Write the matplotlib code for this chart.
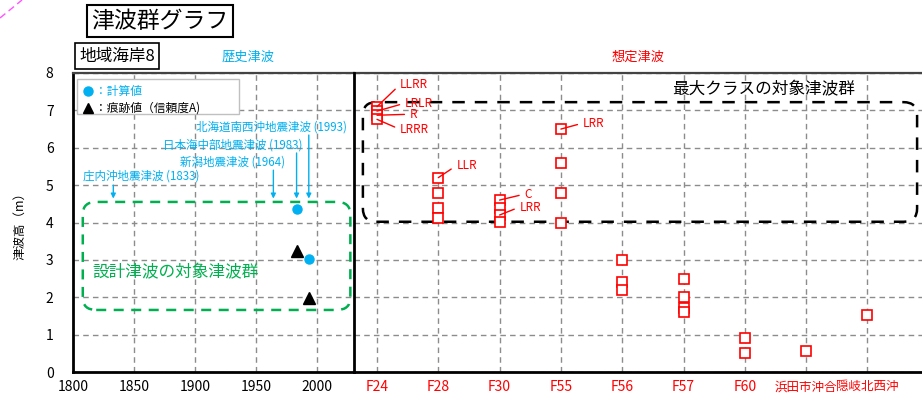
import matplotlib
matplotlib.use('Agg')
import matplotlib.pyplot as plt
from matplotlib.lines import Line2D
from matplotlib.patches import FancyBboxPatch, Rectangle

plt.rcParams['font.family'] = ['Noto Sans CJK JP', 'DejaVu Sans']

# 歴史津波
years_calc = [1983, 1993]
h_calc = [4.35, 3.03]
years_trace = [1983, 1993]
h_trace = [3.25, 1.97]
event_names = ['庄内沖地震津波 (1833)', '新潟地震津波 (1964)',
               '日本海中部地震津波 (1983)', '北海道南西沖地震津波 (1993)']
event_years = [1833, 1964, 1983, 1993]
year_ticks = [1800, 1850, 1900, 1950, 2000]

# 想定津波
cases = ['F24', 'F28', 'F30', 'F55', 'F56', 'F57', 'F60', '浜田市沖合', '隠岐北西沖']
case_heights = [[7.1, 6.98, 6.87, 6.76],
                [5.2, 4.8, 4.4, 4.12],
                [4.6, 4.4, 4.2, 4.02],
                [6.5, 5.6, 4.8, 4.0],
                [3.0, 2.4, 2.2],
                [2.5, 2.0, 1.72, 1.6],
                [0.9, 0.5],
                [0.57],
                [1.52]]
label_case = [0, 0, 0, 0, 1, 2, 2, 3]
label_height = [7.1, 6.98, 6.87, 6.76, 5.2, 4.6, 4.2, 6.5]
label_text = ['LLRR', 'LRLR', 'R', 'LRRR', 'LLR', 'C', 'LRR', 'LRR']
label_offset = [(23, 22), (28, 8), (33, 1), (23, -10), (18, 12), (25, 6), (20, 8), (22, 6)]

BLUE = '#00B0F0'
GREEN = '#00B050'
RED = '#FF0000'
GRID = '#8C8C8C'

fig = plt.figure(figsize=(9.22, 3.99), dpi=100)
W, H = 922, 399
ax1 = fig.add_axes([73 / W, 27 / H, 281 / W, 299 / H])
ax2 = fig.add_axes([354 / W, 27 / H, 568 / W, 299 / H])

for ax in (ax1, ax2):
    ax.set_ylim(0, 8)
    ax.set_yticks(range(0, 9))
    ax.grid(True, color=GRID, linestyle=(0, (4, 3)), linewidth=1)
    ax.set_axisbelow(True)
    ax.tick_params(length=0, labelsize=10)
    ax.spines['bottom'].set_linewidth(2)
    ax.spines['top'].set_color('#444444')
    ax.spines['top'].set_linewidth(1.6)

# left panel
ax1.set_xlim(1800, 2030)
ax1.set_xticks(year_ticks)
ax1.tick_params(axis='y', pad=14)
ax1.tick_params(axis='x', pad=6)
ax1.spines['left'].set_linewidth(2)
ax1.spines['right'].set_visible(False)
ax1.set_ylabel('津波高（m）', fontsize=9, labelpad=14)

ax1.plot(years_calc, h_calc, 'o', color=BLUE, markersize=6.5, zorder=5)
ax1.plot(years_trace, h_trace, '^', color='black', markersize=8, zorder=5)

text_pos = [(1808, 5.24, 'left'), (1973.5, 5.62, 'right'),
            (1987.4, 6.07, 'right'), (2024.3, 6.55, 'right')]
arrow_start = [5.0, 5.4, 5.86, 6.34]
for name, yr, (tx, ty, ha), ys in zip(event_names, event_years, text_pos, arrow_start):
    ax1.text(tx, ty, name, color=BLUE, fontsize=8.3, ha=ha, va='center')
    ax1.annotate('', xy=(yr, 4.64), xytext=(yr, ys),
                 arrowprops=dict(arrowstyle='-|>', color=BLUE, lw=1,
                                 mutation_scale=7, shrinkA=0, shrinkB=0))

box1 = FancyBboxPatch((1808, 1.66), 219, 2.89,
                      boxstyle='round,pad=0,rounding_size=11',
                      mutation_aspect=0.03, fill=False, edgecolor=GREEN,
                      linewidth=1.8, linestyle=(0, (4, 3)), zorder=3)
ax1.add_patch(box1)
ax1.text(1816, 2.65, '設計津波の対象津波群', color=GREEN, fontsize=12, va='center')

# legend
ax1.add_patch(Rectangle((0.014, 0.863), 0.576, 0.117, transform=ax1.transAxes,
                        facecolor='white', edgecolor='#C0C0C0', linewidth=1, zorder=6))
handles = [Line2D([], [], marker='o', color=BLUE, linestyle='none', markersize=6.5),
           Line2D([], [], marker='^', color='black', linestyle='none', markersize=7)]
leg = ax1.legend(handles, ['：計算値', '：痕跡値（信頼度A)'], loc='upper left',
                 bbox_to_anchor=(0.0, 0.995),
                 fontsize=8.5, frameon=False, handlelength=0.8, handletextpad=0.2,
                 borderpad=0.4, labelspacing=0.3)
leg.set_zorder(7)
leg.get_texts()[0].set_color(BLUE)

# right panel
ax2.patch.set_visible(False)
ax2.set_xlim(-0.375, 8.89)
ax2.set_xticks(range(len(cases)))
ax2.set_xticklabels(cases, color=RED)
for t in ax2.get_xticklabels()[7:]:
    t.set_fontsize(9)
ax2.tick_params(axis='x', pad=6)
ax2.tick_params(axis='y', labelleft=False)
ax2.spines['left'].set_linewidth(2)
ax2.spines['left'].set_zorder(8)
ax2.spines['right'].set_visible(False)

for i, hs in enumerate(case_heights):
    ax2.plot([i] * len(hs), hs, 's', markerfacecolor='white', markeredgecolor=RED,
             markeredgewidth=1.2, markersize=6.5, zorder=5)

for ci, hv, lab, (dx, dy) in zip(label_case, label_height, label_text, label_offset):
    ax2.annotate(lab, xy=(ci, hv), xytext=(dx, dy), textcoords='offset pixels',
                 color=RED, fontsize=8.5, ha='left', va='center', zorder=6,
                 arrowprops=dict(arrowstyle='-', color=RED, lw=1, relpos=(0, 0.5),
                                 shrinkA=2, shrinkB=0))

box2 = FancyBboxPatch((-0.23, 4.02), 9.04, 3.2,
                      boxstyle='round,pad=0,rounding_size=0.22',
                      mutation_aspect=1.6, fill=False, edgecolor='black',
                      linewidth=1.8, linestyle=(0, (5, 4)), zorder=3)
ax2.add_patch(box2)
ax2.text(6.3, 7.54, '最大クラスの対象津波群', fontsize=12, ha='center', va='center')

# titles
fig.text(160 / W, 1 - 21 / H, '津波群グラフ', fontsize=16.5, ha='center', va='center',
         bbox=dict(boxstyle='square,pad=0.2', facecolor='white', edgecolor='black', linewidth=1.5))
fig.text(117 / W, 1 - 56 / H, '地域海岸8', fontsize=12, ha='center', va='center',
         bbox=dict(boxstyle='square,pad=0.25', facecolor='white', edgecolor='black', linewidth=1.2))
fig.text(248 / W, 1 - 57 / H, '歴史津波', fontsize=9.5, color=BLUE, ha='center', va='center')
fig.text(638 / W, 1 - 57 / H, '想定津波', fontsize=9.5, color=RED, ha='center', va='center')

fig.add_artist(Line2D([0, 22 / W], [1 - 18 / H, 1], transform=fig.transFigure,
                      color='#FF55FF', linewidth=1, linestyle=(0, (5, 3))))

fig.savefig('out.png', dpi=100)
